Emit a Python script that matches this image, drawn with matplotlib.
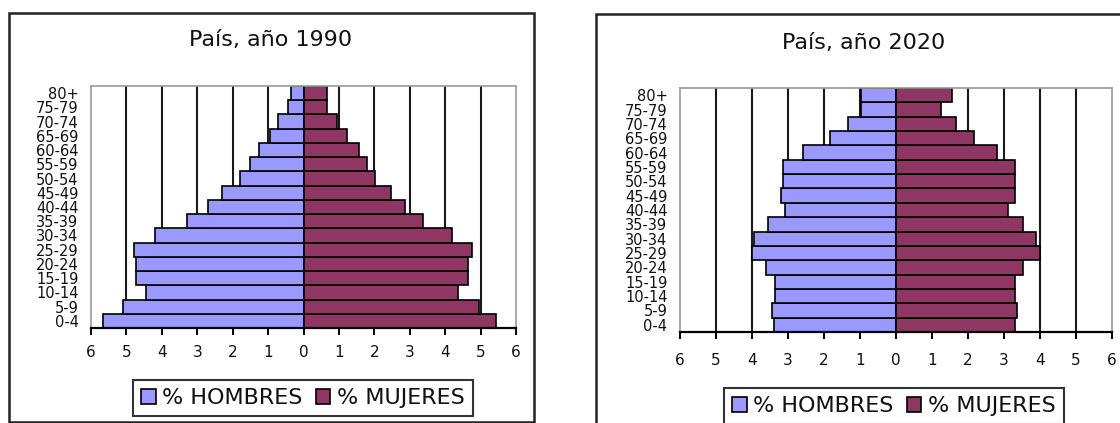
import matplotlib
matplotlib.use("Agg")
import matplotlib.pyplot as plt
from matplotlib.patches import Rectangle, Patch

# Age groups, youngest first (bottom of the pyramid)
grupos = ["0-4", "5-9", "10-14", "15-19", "20-24", "25-29", "30-34", "35-39",
          "40-44", "45-49", "50-54", "55-59", "60-64", "65-69", "70-74",
          "75-79", "80+"]

# Percentage of population per age group
hombres_1990 = [5.66, 5.09, 4.46, 4.74, 4.74, 4.79, 4.18, 3.28, 2.71, 2.30,
                1.78, 1.50, 1.26, 0.96, 0.72, 0.43, 0.36]
mujeres_1990 = [5.44, 4.96, 4.35, 4.64, 4.64, 4.76, 4.20, 3.37, 2.86, 2.46,
                2.01, 1.80, 1.57, 1.22, 0.94, 0.66, 0.66]

hombres_2020 = [3.38, 3.44, 3.36, 3.36, 3.61, 4.00, 3.94, 3.55, 3.08, 3.20,
                3.13, 3.13, 2.57, 1.83, 1.34, 0.97, 0.97]
mujeres_2020 = [3.31, 3.35, 3.31, 3.31, 3.54, 4.00, 3.88, 3.54, 3.12, 3.31,
                3.31, 3.31, 2.80, 2.17, 1.66, 1.26, 1.55]

titulos = ["País, año 1990", "País, año 2020"]
x_ticks = list(range(-6, 7))
x_labels = [str(abs(t)) for t in x_ticks]

COLOR_H = "#9999FF"
COLOR_M = "#8F3762"

W, H = 1120, 423
fig = plt.figure(figsize=(W / 100, H / 100), dpi=100)
fig.patch.set_facecolor("white")


def frac_rect(x0, y0, x1, y1):
    """Pixel box (top-left origin) -> figure fraction [l, b, w, h]."""
    return [x0 / W, 1 - y1 / H, (x1 - x0) / W, (y1 - y0) / H]


def frame(x0, y0, x1, y1):
    l, b, w, h = frac_rect(x0, y0, x1, y1)
    fig.patches.append(Rectangle((l, b), w, h, transform=fig.transFigure,
                                 fill=False, edgecolor="#222222", lw=1.8,
                                 zorder=0))


frame(9, 13, 534, 422)
frame(596, 14, 1130, 440)

panels = [
    dict(axbox=(91, 86, 516, 328), title_xy=(271, 40), legend_xy=(303, 398),
         xpad=7, hombres=hombres_1990, mujeres=mujeres_1990),
    dict(axbox=(680, 88, 1112, 332), title_xy=(864, 43), legend_xy=(894, 406),
         xpad=10, hombres=hombres_2020, mujeres=mujeres_2020),
]

y = list(range(len(grupos)))

for p, titulo in zip(panels, titulos):
    ax = fig.add_axes(frac_rect(*p["axbox"]))
    ax.set_xlim(-6, 6)
    ax.set_ylim(-0.5, len(grupos) - 0.5)

    # vertical gridlines behind the bars
    for t in range(-5, 6):
        ax.axvline(t, color="#1a1a1a", lw=1.5, zorder=1)

    ax.barh(y, [-v for v in p["hombres"]], height=1.0, color=COLOR_H,
            edgecolor="black", lw=1.2, zorder=2)
    ax.barh(y, p["mujeres"], height=1.0, color=COLOR_M,
            edgecolor="black", lw=1.2, zorder=2)

    for side in ("top", "left", "right"):
        ax.spines[side].set_linestyle((0, (1, 1)))
        ax.spines[side].set_color("#999999")
        ax.spines[side].set_linewidth(1.2)
    ax.spines["bottom"].set_color("black")
    ax.spines["bottom"].set_linewidth(1.6)
    ax.spines["bottom"].set_zorder(3)

    ax.set_xticks(x_ticks)
    ax.set_xticklabels(x_labels, fontsize=11, color="#111111")
    ax.tick_params(axis="x", direction="out", length=5, width=1.4,
                   pad=p["xpad"])
    ax.set_yticks(y)
    ax.set_yticklabels(grupos, fontsize=10.5, color="#111111")
    ax.tick_params(axis="y", length=0, pad=9)

    fig.text(p["title_xy"][0] / W, 1 - p["title_xy"][1] / H, titulo,
             ha="center", va="center", fontsize=16, color="#111111")

    handles = [Patch(facecolor=COLOR_H, edgecolor="black", lw=1.2),
               Patch(facecolor=COLOR_M, edgecolor="black", lw=1.2)]
    leg = fig.legend(handles, ["% HOMBRES", "% MUJERES"], ncol=2,
                     loc="center",
                     bbox_to_anchor=(p["legend_xy"][0] / W,
                                     1 - p["legend_xy"][1] / H),
                     fontsize=16, frameon=True, fancybox=False,
                     edgecolor="black", handlelength=0.65, handleheight=0.65,
                     handletextpad=0.3, columnspacing=0.6, borderpad=0.35,
                     borderaxespad=0)
    leg.get_frame().set_linewidth(1.5)
    for txt in leg.get_texts():
        txt.set_color("#111111")

fig.savefig("out.png", dpi=100, facecolor="white")
